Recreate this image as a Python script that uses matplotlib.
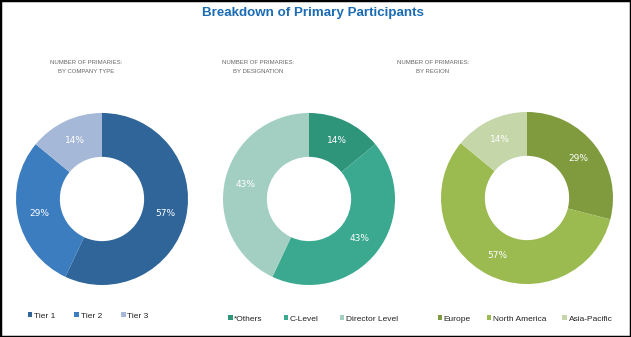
import matplotlib

matplotlib.use("Agg")

import numpy as np
import matplotlib.pyplot as plt
from matplotlib.patches import Rectangle

plt.rcParams["font.family"] = ["Liberation Sans", "DejaVu Sans"]

W, H = 631, 337

title = "Breakdown of Primary Participants"

company_labels = ["Tier 1", "Tier 2", "Tier 3"]
company_values = [57, 29, 14]
company_colors = ["#2f6598", "#3c7dc0", "#a5b8d7"]

designation_labels = ["*Others", "C-Level", "Director Level"]
designation_values = [14, 43, 43]
designation_colors = ["#2e947a", "#3aa98f", "#a3cfc2"]

region_labels = ["Europe", "North America", "Asia-Pacific"]
region_values = [29, 57, 14]
region_colors = ["#7f9b3e", "#9bba50", "#c5d6a9"]

panels = [
    ("NUMBER OF PRIMARIES:\nBY COMPANY TYPE", company_labels, company_values, company_colors),
    ("NUMBER OF PRIMARIES:\nBY DESIGNATION", designation_labels, designation_values, designation_colors),
    ("NUMBER OF PRIMARIES:\nBY REGION", region_labels, region_values, region_colors),
]

# pixel layout: donut centre, outer radius, subtitle x, legend centre / y, column spacing
centers = [(102, 199), (309, 199), (527, 198)]
radius = 86
subtitle_x = [86, 258, 433]
legend_pos = [(88, 316), (313, 319), (525, 319)]
legend_gap = [2.3, 2.5, 1.9]

fig = plt.figure(figsize=(W / 100, H / 100), dpi=100)
fig.patch.set_facecolor("white")

fig.text(313 / W, 1 - 13 / H, title, ha="center", va="center",
         fontsize=9.6, fontweight="bold", color="#1b6cb4")

for (sub, labels, values, colors), (cx, cy), sx, (lx, ly), gap in zip(
        panels, centers, subtitle_x, legend_pos, legend_gap):
    ax = fig.add_axes([(cx - radius) / W, 1 - (cy + radius) / H,
                       2 * radius / W, 2 * radius / H])
    wedges, _ = ax.pie(values, colors=colors, startangle=90, counterclock=False,
                       wedgeprops=dict(width=0.51, edgecolor="none"))
    # percentage labels sit midway across the ring
    for w, v in zip(wedges, values):
        ang = np.deg2rad((w.theta1 + w.theta2) / 2)
        ax.text(0.75 * np.cos(ang), 0.75 * np.sin(ang), f"{v}%",
                ha="center", va="center", fontsize=6.5, color="white",
                family="DejaVu Sans")
    ax.set_xlim(-1, 1)
    ax.set_ylim(-1, 1)
    ax.set_aspect("equal")
    ax.axis("off")

    fig.text(sx / W, 1 - 67 / H, sub, ha="center", va="center", fontsize=4.3,
             color="#666666", linespacing=2.0)

    fig.legend(wedges, labels, loc="center", bbox_to_anchor=(lx / W, 1 - ly / H),
               ncol=3, frameon=False, fontsize=6, handlelength=0.55,
               handleheight=0.55, handletextpad=0.2, columnspacing=gap,
               labelcolor="#222222")

fig.add_artist(Rectangle((0, 0), 1, 1, transform=fig.transFigure, fill=False,
                         edgecolor="black", linewidth=2.5))

fig.savefig("out.png", dpi=100)
